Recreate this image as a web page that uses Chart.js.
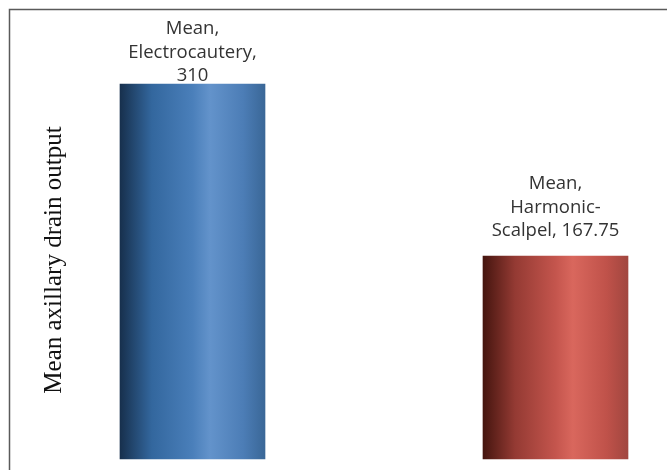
<!DOCTYPE html>
<html>
<head>
<meta charset="utf-8">
<script src="https://cdn.jsdelivr.net/npm/chart.js@4"></script>
<style>
  html, body { margin: 0; padding: 0; background: #fff; }
  #wrap { width: 667px; height: 470px; }
</style>
</head>
<body>
<div id="wrap"><canvas id="chart"></canvas></div>
<script>
// data
const categories = ['Electrocautery', 'Harmonic-Scalpel'];
const meanOutput = [310, 167.75];
const labelLines = [
  ['Mean,', categories[0] + ',', String(meanOutput[0])],
  ['Mean,', 'Harmonic-', 'Scalpel, ' + meanOutput[1]]
];
const yTitle = 'Mean axillary drain output';

// style
const BAR_W = 145;
const barStops = [
  [[0, '#17304d'], [0.22, '#33679e'], [0.5, '#4a7fba'], [0.62, '#6393cb'], [0.85, '#4c7db6'], [1, '#3a6797']],
  [[0, '#45150f'], [0.22, '#943a33'], [0.5, '#c4554d'], [0.62, '#d9675d'], [0.85, '#c0524a'], [1, '#a1463f']]
];
const flatColors = ['#4a7fba', '#c4554d'];
const labelGap = [8, 25];

function barFill(c) {
  const x = c.chart.scales.x;
  if (c.type !== 'data' || !x) return flatColors[0];
  const cx = x.getPixelForValue(c.dataIndex);
  if (!Number.isFinite(cx)) return flatColors[c.dataIndex];
  const g = c.chart.ctx.createLinearGradient(cx - BAR_W / 2, 0, cx + BAR_W / 2, 0);
  barStops[c.dataIndex].forEach((s) => g.addColorStop(s[0], s[1]));
  return g;
}

const decor = {
  id: 'decor',
  beforeDraw(chart) {
    const ctx = chart.ctx;
    ctx.save();
    ctx.strokeStyle = '#5a5a5a';
    ctx.lineWidth = 1.5;
    ctx.beginPath();
    ctx.moveTo(9.5, chart.height);
    ctx.lineTo(9.5, 9.5);
    ctx.lineTo(chart.width, 9.5);
    ctx.stroke();

    ctx.fillStyle = '#111';
    ctx.font = '25px "Liberation Serif", "Times New Roman", serif';
    ctx.textAlign = 'center';
    ctx.textBaseline = 'middle';
    ctx.translate(54, 260);
    ctx.rotate(-Math.PI / 2);
    ctx.fillText(yTitle, 0, 0);
    ctx.restore();
  },
  afterDatasetsDraw(chart) {
    const ctx = chart.ctx;
    const lh = 23.7;
    ctx.save();
    ctx.fillStyle = '#333';
    ctx.font = '18.5px "Open Sans", sans-serif';
    ctx.textAlign = 'center';
    ctx.textBaseline = 'middle';
    chart.getDatasetMeta(0).data.forEach((bar, i) => {
      const lines = labelLines[i];
      lines.forEach((t, j) => {
        const y = bar.y - labelGap[i] - (lines.length - 1 - j) * lh;
        ctx.fillText(t, bar.x, y);
      });
    });
    ctx.restore();
  }
};

new Chart(document.getElementById('chart'), {
  type: 'bar',
  data: {
    labels: categories,
    datasets: [{
      label: 'Mean',
      data: meanOutput,
      backgroundColor: barFill,
      borderWidth: 0,
      barThickness: BAR_W,
      clip: false
    }]
  },
  options: {
    responsive: true,
    maintainAspectRatio: false,
    animation: false,
    layout: { padding: { left: 192.5, right: 111.5, top: 11.4, bottom: 11 } },
    scales: {
      x: { display: false, offset: false },
      y: { display: false, min: 0, max: 370 }
    },
    plugins: { legend: { display: false }, tooltip: { enabled: false } }
  },
  plugins: [decor]
});
</script>
</body>
</html>
